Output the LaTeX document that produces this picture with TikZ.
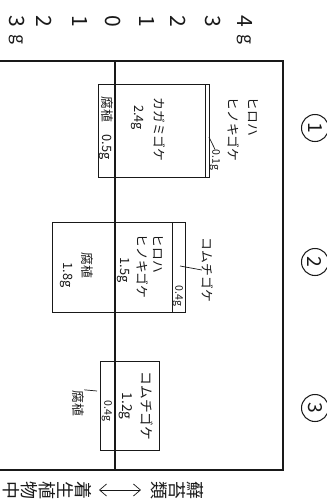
\documentclass[tikz,border=0pt]{standalone}
\usepackage{fontspec}
\setmainfont{Noto Sans CJK JP}
\usetikzlibrary{arrows.meta}
\tikzset{
  frameln/.style={line width=0.8pt},
  barln/.style={line width=0.55pt},
  leadln/.style={line width=0.4pt},
  axisnum/.style={rotate=-90, inner sep=0pt, font=\fontsize{12}{14}\selectfont},
  lbl/.style={rotate=-90, inner sep=0pt, align=left, font=\fontsize{7.3}{11.3}\selectfont},
  smalllbl/.style={rotate=-90, inner sep=0pt, font=\fontsize{6}{7}\selectfont},
  sitemark/.style={circle, draw, line width=0.6pt, minimum size=0.54cm, inner sep=0pt,
    rotate=-90, font=\fontsize{11}{12}\selectfont},
  vtext/.style={rotate=-90, inner sep=0pt, align=center, font=\fontsize{10.2}{10.2}\selectfont},
}
\definecolor{inkcol}{RGB}{25,25,25}

\begin{document}
\begin{tikzpicture}[x=0.02cm, y=-0.02cm, inkcol]
  \useasboundingbox (0,0) rectangle (327,504);
  % scale and frame
  \foreach \d/\x [count=\i] in {3/17,2/44,1/80,0/113,1/147,2/178,3/213,4/245}
    \node[axisnum] (n\i) at (\x,21) {\d};
  \node[axisnum, font=\fontsize{10}{12}\selectfont] (g1) at (16,39) {g};
  \node[axisnum, font=\fontsize{10}{12}\selectfont] (g8) at (244,39) {g};
  \draw[frameln] (0,61) -- (283,61) -- (283,470) -- (0,470);
  \draw[frameln] (115,61) -- (115,470);
  \node[sitemark] (s1) at (315,128) {1};
  \node[sitemark] (s2) at (315,262) {2};
  \node[sitemark] (s3) at (315,408) {3};

  % site 1
  \draw[barln] (98,84) rectangle (209,177);
  \draw[barln] (205,84) -- (205,177);
  \node[lbl] (h1) at (106,128) {腐植　0.5g};
  \node[lbl, anchor=north west] (k1) at (166,97) {カガミゴケ\\\hspace*{0.6em}2.4g};
  \node[lbl, anchor=north west] (hh1) at (259,97) {ヒロハ\\ヒノキゴケ};
  \node[smalllbl] (v1) at (215,160) {0.1g};
  \coordinate (c1) at (209,137);
  \draw[leadln] (c1) -- (v1.west);

  % site 2
  \draw[barln] (52,222) rectangle (185,312);
  \draw[barln] (172,222) -- (172,312);
  \node[lbl, anchor=north west] (h2) at (94,252) {腐植\\\hspace*{0.8em}1.8g};
  \node[lbl, anchor=north west, font=\fontsize{7.3}{9.4}\selectfont] (hh2) at (164,234)
    {ヒロハ\\ヒノキゴケ\\\hspace*{1.8em}1.5g};
  \node[smalllbl] (v2) at (178,296) {0.4g};
  \node[lbl] (km2) at (208,270) {コムチゴケ};
  \coordinate (c2) at (180,266);
  \draw[leadln] (c2) -- (km2.south);

  % site 3
  \draw[barln] (100,361) rectangle (159,450);
  \node[lbl, anchor=north, align=center, font=\fontsize{7.8}{11.3}\selectfont] (km3) at (154,406)
    {コムチゴケ\\1.2g};
  \node[smalllbl] (v3) at (107,411) {0.4g};
  \node[lbl] (h3) at (78,403) {腐植};
  \coordinate (c3) at (97,391);
  \draw[leadln] (h3.north west) -- (c3);

  % legend
  \node[vtext, anchor=north] (moss) at (204,490) {蘚\\苔\\類};
  \node[vtext, anchor=north] (epi) at (92,490) {着\\生\\植\\物\\中};
  \draw[leadln, {Straight Barb[length=1.4mm,width=2.4mm]}-{Straight Barb[length=1.4mm,width=2.4mm]},
    shorten <=0.2cm, shorten >=0.14cm] (moss.south) -- (epi.north);
\end{tikzpicture}
\end{document}
